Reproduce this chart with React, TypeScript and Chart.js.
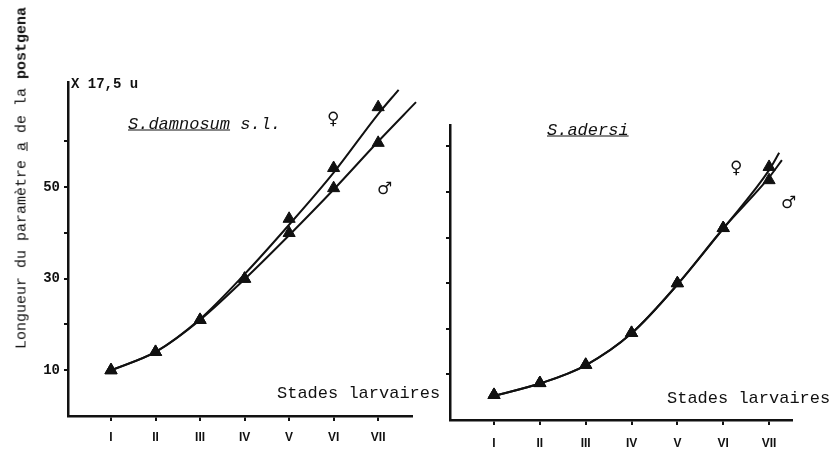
import React, { useEffect, useRef } from 'react';
import { Chart, registerables } from 'chart.js';
Chart.register(...registerables);

// ---- data ----
const stageLabels = ['I', 'II', 'III', 'IV', 'V', 'VI', 'VII'];
const stages = [1, 2, 3, 4, 5, 6, 7];
// measured points (triangles)
const damnosumFemale = [10.0, 14.0, 21.0, 30.0, 43.1, 54.2, 67.5];
const damnosumMale = [10.0, 14.0, 21.0, 30.0, 40.0, 49.8, 59.7];
const adersiFemale = [5.5, 8.1, 12.1, 19.1, 30.0, 42.1, 55.5];
const adersiMale = [5.5, 8.1, 12.1, 19.1, 30.0, 42.1, 52.6];
// fitted curves and where they stop
const damnosumFemaleFit = [10.0, 14.0, 21.2, 31.0, 41.8, 53.2, 66.0];
const damnosumMaleFit = [10.0, 14.0, 21.0, 29.9, 39.5, 49.5, 60.0];
const damnosumFemaleFitEnd = [7.46, 71.3];
const damnosumMaleFitEnd = [7.85, 68.6];
const adersiFemaleFit = [5.3, 8.0, 12.0, 19.0, 29.7, 42.0, 54.8];
const adersiMaleFit = [5.3, 8.0, 12.0, 19.0, 29.7, 42.0, 53.2];
const adersiFemaleFitEnd = [7.22, 58.6];
const adersiMaleFitEnd = [7.28, 57.0];
const yTickValues = [10, 20, 30, 40, 50, 60];
const yLabelledTicks = [10, 30, 50];

type PanelProps = {
  female: number[];
  male: number[];
  femaleFit: number[];
  maleFit: number[];
  femaleEnd: number[];
  maleEnd: number[];
  xMin: number;
  xMax: number;
  yMax: number;
  yAxisWidth: number;
  xAxisHeight: number;
  padTop: number;
  padRight: number;
  tickPad: number;
  showYLabels: boolean;
  width: number;
  left: number;
};

function curve(vals: number[], end: number[]) {
  const pts = stages.map((x, i) => ({ x, y: vals[i] }));
  pts.push({ x: end[0], y: end[1] });
  return pts;
}
function marks(vals: number[]) {
  return stages.map((x, i) => ({ x, y: vals[i] }));
}

function Panel(p: PanelProps) {
  const ref = useRef<HTMLCanvasElement>(null);
  useEffect(() => {
    if (!ref.current) return;
    const lineBase = {
      borderColor: '#111',
      borderWidth: 2,
      pointRadius: 0,
      cubicInterpolationMode: 'monotone' as const,
      clip: false as any,
      fill: false,
    };
    const markBase = {
      showLine: false,
      pointStyle: 'triangle' as const,
      pointRadius: 7,
      backgroundColor: '#111',
      borderColor: '#111',
      borderWidth: 1,
      clip: false as any,
    };
    const chart = new Chart(ref.current, {
      type: 'line',
      data: {
        datasets: [
          { ...lineBase, label: 'female fit', data: curve(p.femaleFit, p.femaleEnd) },
          { ...lineBase, label: 'male fit', data: curve(p.maleFit, p.maleEnd) },
          { ...markBase, label: 'female', data: marks(p.female) },
          { ...markBase, label: 'male', data: marks(p.male) },
        ] as any,
      },
      options: {
        animation: false,
        responsive: false,
        devicePixelRatio: 1,
        layout: { padding: { top: p.padTop, right: p.padRight, left: 0, bottom: 0 } },
        plugins: { legend: { display: false }, tooltip: { enabled: false } },
        scales: {
          x: {
            type: 'linear',
            min: p.xMin,
            max: p.xMax,
            afterBuildTicks: (s: any) => {
              s.ticks = stages.map((v) => ({ value: v }));
            },
            afterFit: (s: any) => {
              s.height = p.xAxisHeight;
            },
            ticks: {
              autoSkip: false,
              maxRotation: 0,
              padding: p.tickPad,
              color: '#111',
              font: { family: '"Liberation Sans", sans-serif', size: 12, weight: 'bold' },
              callback: (v: any) => stageLabels[Math.round(Number(v)) - 1] ?? '',
            },
            grid: { drawOnChartArea: false, drawTicks: true, tickLength: 5, color: '#111', lineWidth: 2 },
            border: { display: true, color: '#111', width: 2.5 },
          },
          y: {
            type: 'linear',
            min: 0,
            max: p.yMax,
            afterBuildTicks: (s: any) => {
              s.ticks = yTickValues.map((v) => ({ value: v }));
            },
            afterFit: (s: any) => {
              s.width = p.yAxisWidth;
            },
            ticks: {
              padding: 4,
              color: '#111',
              font: { family: '"Liberation Mono", monospace', size: 14, weight: 'bold' },
              callback: (v: any) => (p.showYLabels && yLabelledTicks.includes(Number(v)) ? String(v) : ''),
            },
            grid: { drawOnChartArea: false, drawTicks: true, tickLength: 4, color: '#111', lineWidth: 2 },
            border: { display: true, color: '#111', width: 2.5 },
          },
        },
      } as any,
    });
    return () => chart.destroy();
  }, []);
  return (
    <canvas
      ref={ref}
      width={p.width}
      height={450}
      style={{ position: 'absolute', left: p.left, top: 0, width: p.width, height: 450 }}
    />
  );
}

const mono = '"Liberation Mono", "DejaVu Sans Mono", monospace';

function Txt(props: { x: number; y: number; children: any; style?: any }) {
  return (
    <div
      style={{
        position: 'absolute',
        left: props.x,
        top: props.y,
        transform: 'translate(0,-50%)',
        whiteSpace: 'nowrap',
        color: '#111',
        fontFamily: mono,
        lineHeight: 1,
        ...props.style,
      }}
    >
      {props.children}
    </div>
  );
}

const sym = { fontSize: 17, fontWeight: 'bold', fontFamily: '"DejaVu Sans", sans-serif' };

export default function App() {
  return (
    <div
      style={{
        position: 'absolute',
        left: 0,
        top: 0,
        width: 835,
        height: 450,
        background: '#fff',
        overflow: 'hidden',
      }}
    >
      <Panel
        female={damnosumFemale}
        male={damnosumMale}
        femaleFit={damnosumFemaleFit}
        maleFit={damnosumMaleFit}
        femaleEnd={damnosumFemaleFitEnd}
        maleEnd={damnosumMaleFitEnd}
        xMin={0.034}
        xMax={7.76}
        yMax={73}
        yAxisWidth={68}
        xAxisHeight={34}
        padTop={82}
        padRight={8}
        tickPad={9}
        showYLabels={true}
        width={420}
        left={0}
      />
      <Panel
        female={adersiFemale}
        male={adersiMale}
        femaleFit={adersiFemaleFit}
        maleFit={adersiMaleFit}
        femaleEnd={adersiFemaleFitEnd}
        maleEnd={adersiMaleFitEnd}
        xMin={0.04}
        xMax={7.5}
        yMax={64.7}
        yAxisWidth={30}
        xAxisHeight={30}
        padTop={125}
        padRight={43}
        tickPad={11}
        showYLabels={false}
        width={415}
        left={420}
      />
      {/* y-axis title */}
      <div
        style={{
          position: 'absolute',
          left: 22,
          top: 178,
          transform: 'translate(-50%,-50%) rotate(-90deg)',
          whiteSpace: 'nowrap',
          fontFamily: mono,
          fontSize: 15,
          color: '#111',
          lineHeight: 1,
        }}
      >
        Longueur du paramètre <u>a</u> de la <b>postgena</b>
      </div>
      <Txt x={71} y={84} style={{ fontSize: 14, fontWeight: 'bold' }}>
        X 17,5 u
      </Txt>
      <Txt x={128} y={124} style={{ fontSize: 17, fontStyle: 'italic' }}>
        <u>S.damnosum</u> s.l.
      </Txt>
      <Txt x={547} y={130} style={{ fontSize: 17, fontStyle: 'italic' }}>
        <u>S.adersi</u>
      </Txt>
      <Txt x={277} y={393} style={{ fontSize: 17 }}>
        Stades larvaires
      </Txt>
      <Txt x={667} y={398} style={{ fontSize: 17 }}>
        Stades larvaires
      </Txt>
      <Txt x={327} y={118} style={sym}>
        ♀
      </Txt>
      <Txt x={377} y={188} style={sym}>
        ♂
      </Txt>
      <Txt x={730} y={167} style={sym}>
        ♀
      </Txt>
      <Txt x={781} y={202} style={sym}>
        ♂
      </Txt>
    </div>
  );
}
